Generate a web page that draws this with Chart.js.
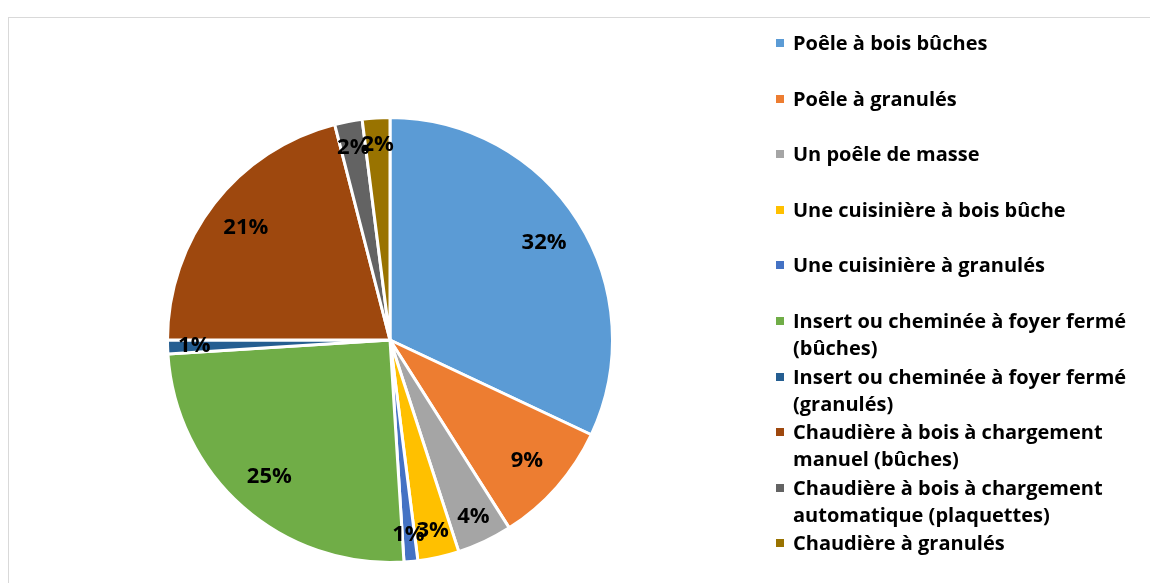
<!DOCTYPE html>
<html>
<head>
<meta charset="utf-8">
<script src="https://cdn.jsdelivr.net/npm/chart.js@4.4.1/dist/chart.umd.min.js"></script>
<style>
    html, body { margin: 0; padding: 0; background: #fff; }
    #wrap { position: relative; width: 1150px; height: 583px; overflow: hidden; }
    #frame { position: absolute; left: 8px; top: 17px; width: 1160px; height: 600px; border: 1px solid #d9d9d9; box-sizing: border-box; }
    #pie { position: absolute; left: 0; top: 0; }
    #legend { position: absolute; left: 776px; top: 0; font-family: "Open Sans", sans-serif; font-weight: 700; font-size: 20px; color: #000; }
    .item { position: absolute; left: 0; width: 370px; line-height: 27px; }
    .item i { position: absolute; left: 0; top: 10px; width: 8px; height: 8px; }
    .item span { display: block; margin-left: 17px; white-space: pre; }
</style>
</head>
<body>
<div id="wrap">
    <div id="frame"></div>
    <canvas id="pie" width="1150" height="583"></canvas>
    <div id="legend"></div>
</div>
<script>
const labels = [
    'Poêle à bois bûches',
    'Poêle à granulés',
    'Un poêle de masse',
    'Une cuisinière à bois bûche',
    'Une cuisinière à granulés',
    'Insert ou cheminée à foyer fermé\n(bûches)',
    'Insert ou cheminée à foyer fermé\n(granulés)',
    'Chaudière à bois à chargement\nmanuel (bûches)',
    'Chaudière à bois à chargement\nautomatique (plaquettes)',
    'Chaudière à granulés'
];
const shares = [32, 9, 4, 3, 1, 25, 1, 21, 2, 2];
const colors = ['#5B9BD5', '#ED7D31', '#A5A5A5', '#FFC000', '#4472C4', '#70AD47', '#255E91', '#9E480E', '#636363', '#997300'];

// legend on the right
const legend = document.getElementById('legend');
labels.forEach(function (text, i) {
    let div = document.createElement('div');
    div.className = 'item';
    div.style.top = (29 + i * 55.6) + 'px';
    div.innerHTML = '<i style="background:' + colors[i] + '"></i><span></span>';
    div.querySelector('span').textContent = text;
    legend.appendChild(div);
});

// percent labels drawn on the slices
const sliceLabels = {
    id: 'sliceLabels',
    afterDatasetsDraw(chart) {
        const c = chart.ctx;
        const meta = chart.getDatasetMeta(0);
        c.save();
        c.font = 'bold 22px "Open Sans", sans-serif';
        c.fillStyle = '#000';
        c.textAlign = 'center';
        c.textBaseline = 'middle';
        meta.data.forEach(function (arc, i) {
            const p = arc.getProps(['x', 'y', 'startAngle', 'endAngle', 'outerRadius'], true);
            const mid = (p.startAngle + p.endAngle) / 2;
            const r = p.outerRadius * (shares[i] < 5 ? 0.88 : 0.82);
            c.fillText(shares[i] + '%', p.x + Math.cos(mid) * r, p.y + Math.sin(mid) * r);
        });
        c.restore();
    }
};

const ctx = document.getElementById('pie');

new Chart(ctx, {
    type: 'pie',
    data: {
        labels,
        datasets: [{
            data: shares,
            backgroundColor: colors,
            borderColor: '#fff',
            borderWidth: 3
        }]
    },
    options: {
        responsive: false,
        animation: false,
        layout: {
            padding: { left: 166, right: 536, top: 116, bottom: 19 }
        },
        plugins: {
            legend: { display: false },
            tooltip: { enabled: false }
        }
    },
    plugins: [sliceLabels]
});
</script>
</body>
</html>
